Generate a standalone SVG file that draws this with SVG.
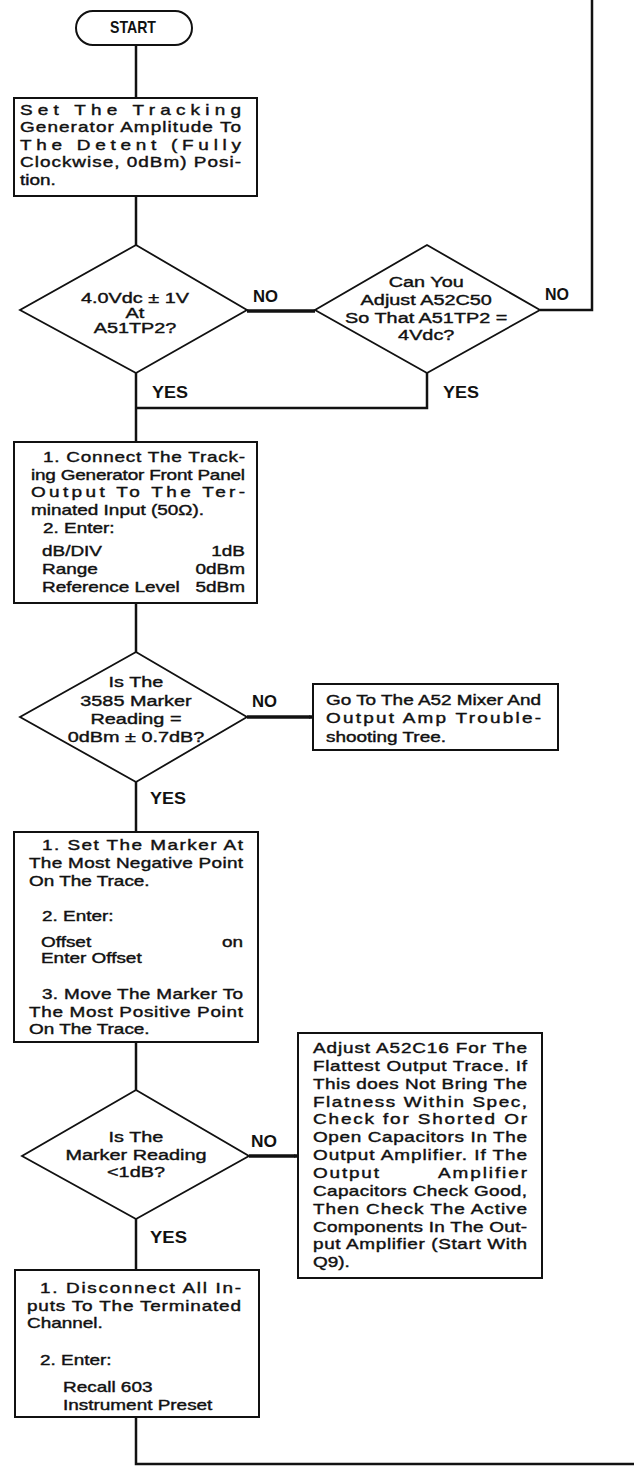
<svg xmlns="http://www.w3.org/2000/svg" width="634" height="1467" viewBox="0 0 634 1467">
<defs>
<style>
.box{fill:#fff;stroke:#111;stroke-width:2}
.dia{fill:#fff;stroke:#111;stroke-width:1.8}
.ln{fill:none;stroke:#111;stroke-width:2.5;stroke-linejoin:miter}
.thk{fill:none;stroke:#111;stroke-width:3.5}
.t{font-family:"Liberation Sans",Arial,sans-serif;font-size:14.8px;fill:#111;stroke:#111;stroke-width:0.4}
.d{font-family:"Liberation Sans",Arial,sans-serif;font-size:15.5px;fill:#111;stroke:#111;stroke-width:0.4;text-anchor:middle}
.lb{font-family:"Liberation Sans",Arial,sans-serif;font-size:17px;font-weight:bold;fill:#111}
.e{text-anchor:end}
</style>
<marker id="ah" viewBox="0 0 8 8" refX="7" refY="4" markerWidth="5" markerHeight="5" markerUnits="userSpaceOnUse" orient="auto">
<path d="M0,1 L8,4 L0,7 z" fill="#111"/>
</marker>
</defs>
<rect width="634" height="1467" fill="#fff"/>

<g id="connectors">
<path class="ln" d="M136,45 V98"/>
<path class="ln" d="M136,196 V245"/>
<path class="thk" d="M247,311 H315"/>
<path class="ln" d="M540,310 H592 V0"/>
<path class="ln" d="M136,373 V442"/>
<path class="ln" d="M427,373 V408 H136"/>
<path class="ln" d="M136,603 V652"/>
<path class="thk" d="M247,717 H313" marker-end="url(#ah)"/>
<path class="ln" d="M136,782 V832"/>
<path class="ln" d="M136,1042 V1090"/>
<path class="thk" d="M249,1156 H298" marker-end="url(#ah)"/>
<path class="ln" d="M136,1219 V1270"/>
<path class="ln" d="M136,1417 V1464 H634"/>
</g>

<g id="labels">
<text class="lb" x="253" y="302" textLength="25" lengthAdjust="spacingAndGlyphs">NO</text>
<text class="lb" x="545" y="300" textLength="24" lengthAdjust="spacingAndGlyphs">NO</text>
<text class="lb" x="152" y="398" textLength="36" lengthAdjust="spacingAndGlyphs">YES</text>
<text class="lb" x="443" y="398" textLength="36" lengthAdjust="spacingAndGlyphs">YES</text>
<text class="lb" x="252" y="707" textLength="25" lengthAdjust="spacingAndGlyphs">NO</text>
<text class="lb" x="150" y="804" textLength="36" lengthAdjust="spacingAndGlyphs">YES</text>
<text class="lb" x="251" y="1147" textLength="26" lengthAdjust="spacingAndGlyphs">NO</text>
<text class="lb" x="150" y="1243" textLength="37" lengthAdjust="spacingAndGlyphs">YES</text>
</g>

<g id="start">
<rect class="box" x="76" y="11" width="116" height="34" rx="17" ry="17"/>
<text class="lb" x="110" y="33" textLength="46" lengthAdjust="spacingAndGlyphs">START</text>
</g>

<g id="set-amplitude">
<rect class="box" x="14" y="98" width="243" height="98"/>
<g transform="scale(1.28 1)">
<text class="t" x="15.63" y="115" textLength="172.66" lengthAdjust="spacing">Set The Tracking</text>
<text class="t" x="15.63" y="132.5" textLength="172.66" lengthAdjust="spacing">Generator Amplitude To</text>
<text class="t" x="15.63" y="150" textLength="172.66" lengthAdjust="spacing">The Detent (Fully</text>
<text class="t" x="15.63" y="167.5" textLength="172.66" lengthAdjust="spacing">Clockwise, 0dBm) Posi-</text>
<text class="t" x="15.63" y="185">tion.</text>
</g>
</g>

<g id="check-tp2">
<polygon class="dia" points="136,245 247,310 136,373 20,310"/>
<g transform="scale(1.28 1)">
<text class="d" x="105.47" y="303">4.0Vdc ± 1V</text>
<text class="d" x="105.47" y="318">At</text>
<text class="d" x="105.47" y="333">A51TP2?</text>
</g>
</g>

<g id="adjust-c50">
<polygon class="dia" points="427,245 540,310 427,373 315,310"/>
<g transform="scale(1.28 1)">
<text class="d" x="333" y="287">Can You</text>
<text class="d" x="333" y="305">Adjust A52C50</text>
<text class="d" x="333" y="323">So That A51TP2 =</text>
<text class="d" x="333" y="340">4Vdc?</text>
</g>
</g>

<g id="connect-tg">
<rect class="box" x="14" y="442" width="243" height="161"/>
<g transform="scale(1.28 1)">
<text class="t" x="33.59" y="462" textLength="157.8" lengthAdjust="spacing">1. Connect The Track-</text>
<text class="t" x="24.22" y="480" textLength="167.2" lengthAdjust="spacing">ing Generator Front Panel</text>
<text class="t" x="24.22" y="497" textLength="167.2" lengthAdjust="spacing">Output To The Ter-</text>
<text class="t" x="24.22" y="515">minated Input (50Ω).</text>
<text class="t" x="33.59" y="533">2. Enter:</text>
<text class="t" x="32.81" y="556">dB/DIV</text>
<text class="t e" x="191.4" y="556">1dB</text>
<text class="t" x="32.81" y="574">Range</text>
<text class="t e" x="191.4" y="574">0dBm</text>
<text class="t" x="32.81" y="592">Reference Level</text>
<text class="t e" x="191.4" y="592">5dBm</text>
</g>
</g>

<g id="check-marker">
<polygon class="dia" points="136,652 247,717 136,782 20,717"/>
<g transform="scale(1.28 1)">
<text class="d" x="106.25" y="687">Is The</text>
<text class="d" x="106.25" y="706">3585 Marker</text>
<text class="d" x="106.25" y="724">Reading =</text>
<text class="d" x="106.25" y="742">0dBm ± 0.7dB?</text>
</g>
</g>

<g id="goto-a52">
<rect class="box" x="313" y="684" width="245" height="66"/>
<g transform="scale(1.28 1)">
<text class="t" x="254.69" y="705" textLength="167.97" lengthAdjust="spacing">Go To The A52 Mixer And</text>
<text class="t" x="254.69" y="723" textLength="167.97" lengthAdjust="spacing">Output Amp Trouble-</text>
<text class="t" x="254.69" y="742">shooting Tree.</text>
</g>
</g>

<g id="set-marker">
<rect class="box" x="14" y="832" width="244" height="210"/>
<g transform="scale(1.28 1)">
<text class="t" x="32.81" y="850" textLength="157.03" lengthAdjust="spacing">1. Set The Marker At</text>
<text class="t" x="22.66" y="868" textLength="167.19" lengthAdjust="spacing">The Most Negative Point</text>
<text class="t" x="22.66" y="886">On The Trace.</text>
<text class="t" x="32.81" y="921">2. Enter:</text>
<text class="t" x="32.03" y="947">Offset</text>
<text class="t e" x="189.84" y="947">on</text>
<text class="t" x="32.03" y="963">Enter Offset</text>
<text class="t" x="32.81" y="999" textLength="157.03" lengthAdjust="spacing">3. Move The Marker To</text>
<text class="t" x="22.66" y="1017" textLength="167.19" lengthAdjust="spacing">The Most Positive Point</text>
<text class="t" x="22.66" y="1034">On The Trace.</text>
</g>
</g>

<g id="check-flatness">
<polygon class="dia" points="136,1090 249,1156 136,1219 22,1156"/>
<g transform="scale(1.28 1)">
<text class="d" x="106.25" y="1142">Is The</text>
<text class="d" x="106.25" y="1160">Marker Reading</text>
<text class="d" x="106.25" y="1177">&lt;1dB?</text>
</g>
</g>

<g id="adjust-c16">
<rect class="box" x="298" y="1033" width="244" height="245"/>
<g transform="scale(1.28 1)">
<text class="t" x="244.53" y="1053" textLength="167.19" lengthAdjust="spacing">Adjust A52C16 For The</text>
<text class="t" x="244.53" y="1071" textLength="167.19" lengthAdjust="spacing">Flattest Output Trace. If</text>
<text class="t" x="244.53" y="1089" textLength="167.19" lengthAdjust="spacing">This does Not Bring The</text>
<text class="t" x="244.53" y="1107" textLength="167.19" lengthAdjust="spacing">Flatness Within Spec,</text>
<text class="t" x="244.53" y="1124" textLength="167.19" lengthAdjust="spacing">Check for Shorted Or</text>
<text class="t" x="244.53" y="1142" textLength="167.19" lengthAdjust="spacing">Open Capacitors In The</text>
<text class="t" x="244.53" y="1160" textLength="167.19" lengthAdjust="spacing">Output Amplifier. If The</text>
<text class="t" x="244.53" y="1178" textLength="51.56" lengthAdjust="spacing">Output</text>
<text class="t" x="342.19" y="1178" textLength="69.53" lengthAdjust="spacing">Amplifier</text>
<text class="t" x="244.53" y="1196" textLength="167.19" lengthAdjust="spacing">Capacitors Check Good,</text>
<text class="t" x="244.53" y="1214" textLength="167.19" lengthAdjust="spacing">Then Check The Active</text>
<text class="t" x="244.53" y="1232" textLength="167.19" lengthAdjust="spacing">Components In The Out-</text>
<text class="t" x="244.53" y="1249" textLength="167.19" lengthAdjust="spacing">put Amplifier (Start With</text>
<text class="t" x="244.53" y="1267">Q9).</text>
</g>
</g>

<g id="disconnect">
<rect class="box" x="15" y="1270" width="244" height="147"/>
<g transform="scale(1.28 1)">
<text class="t" x="31.25" y="1293" textLength="157.03" lengthAdjust="spacing">1. Disconnect All In-</text>
<text class="t" x="21.09" y="1311" textLength="167.19" lengthAdjust="spacing">puts To The Terminated</text>
<text class="t" x="21.09" y="1328">Channel.</text>
<text class="t" x="31.25" y="1365">2. Enter:</text>
<text class="t" x="49.22" y="1392">Recall 603</text>
<text class="t" x="49.22" y="1410">Instrument Preset</text>
</g>
</g>
</svg>
